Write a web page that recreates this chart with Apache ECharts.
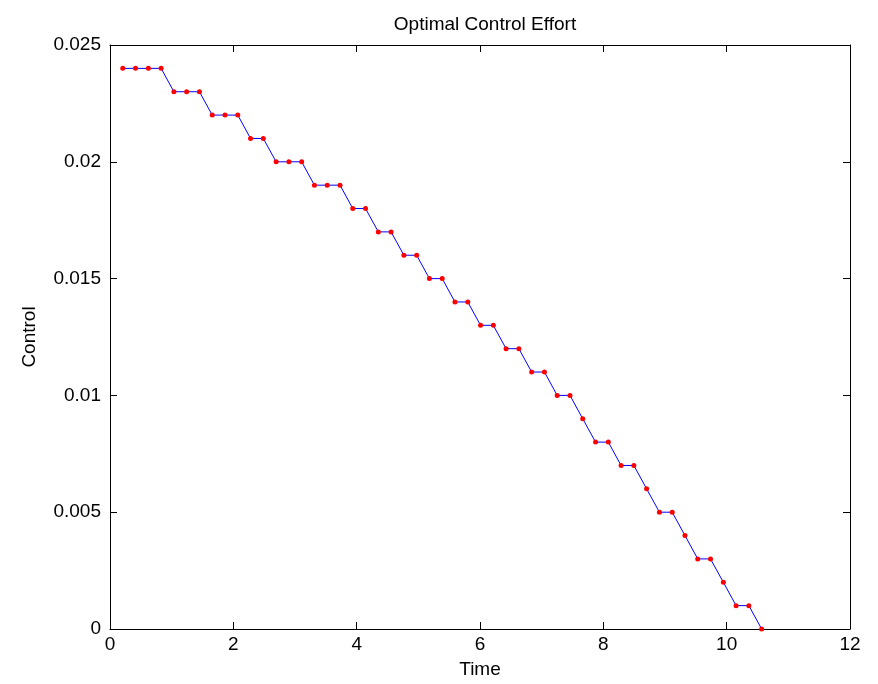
<!DOCTYPE html>
<html>
<head>
<meta charset="utf-8">
<title>Optimal Control Effort</title>
<script src="https://cdn.jsdelivr.net/npm/echarts@6/dist/echarts.min.js"></script>
<style>
  html, body { margin: 0; padding: 0; background: #fff; }
  #chart { width: 878px; height: 684px; }
</style>
</head>
<body>
<div id="chart"></div>
<script>
// time samples
var time = [
  0.207, 0.414, 0.622, 0.829, 1.036, 1.243, 1.450, 1.658, 1.865, 2.072,
  2.279, 2.486, 2.694, 2.901, 3.108, 3.315, 3.522, 3.730, 3.937, 4.144,
  4.351, 4.558, 4.766, 4.973, 5.180, 5.387, 5.594, 5.802, 6.009, 6.216,
  6.423, 6.630, 6.838, 7.045, 7.252, 7.459, 7.666, 7.874, 8.081, 8.288,
  8.495, 8.702, 8.910, 9.117, 9.324, 9.531, 9.738, 9.946, 10.153, 10.360,
  10.567
];
// control effort at each sample
var control = [
  0.024, 0.024, 0.024, 0.024, 0.023, 0.023, 0.023, 0.022, 0.022, 0.022,
  0.021, 0.021, 0.020, 0.020, 0.020, 0.019, 0.019, 0.019, 0.018, 0.018,
  0.017, 0.017, 0.016, 0.016, 0.015, 0.015, 0.014, 0.014, 0.013, 0.013,
  0.012, 0.012, 0.011, 0.011, 0.010, 0.010, 0.009, 0.008, 0.008, 0.007,
  0.007, 0.006, 0.005, 0.005, 0.004, 0.003, 0.003, 0.002, 0.001, 0.001,
  0.000
];
var xTicks = [0, 2, 4, 6, 8, 10, 12];
var yTicks = [0, 0.005, 0.01, 0.015, 0.02, 0.025];

var font = '"Liberation Sans", Arial, Helvetica, sans-serif';
var chart = echarts.init(document.getElementById('chart'));

var points = time.map(function (t, i) { return [t, control[i]]; });

function xAxisCfg(pos, showLabel) {
  return {
    type: 'value',
    position: pos,
    min: xTicks[0],
    max: xTicks[xTicks.length - 1],
    interval: xTicks[1] - xTicks[0],
    axisLine: { show: true, onZero: false, lineStyle: { color: '#000', width: 1 } },
    axisTick: { show: true, inside: true, length: 7, lineStyle: { color: '#000' } },
    axisLabel: { show: showLabel, color: '#000', fontSize: 19, fontFamily: font, margin: 6 },
    splitLine: { show: false }
  };
}
function yAxisCfg(pos, showLabel) {
  return {
    type: 'value',
    position: pos,
    min: yTicks[0],
    max: yTicks[yTicks.length - 1],
    interval: yTicks[1] - yTicks[0],
    axisLine: { show: true, onZero: false, lineStyle: { color: '#000', width: 1 } },
    axisTick: { show: true, inside: true, length: 7, lineStyle: { color: '#000' } },
    axisLabel: {
      show: showLabel, color: '#000', fontSize: 19, fontFamily: font, margin: 9,
      formatter: function (v) { return String(+v.toFixed(3)); }
    },
    splitLine: { show: false }
  };
}

var bottomX = xAxisCfg('bottom', true);
bottomX.name = 'Time';
bottomX.nameLocation = 'middle';
bottomX.nameGap = 31;
bottomX.nameTextStyle = { color: '#000', fontSize: 19, fontFamily: font };

var leftY = yAxisCfg('left', true);
leftY.name = 'Control';
leftY.nameLocation = 'middle';
leftY.nameGap = 71;
leftY.nameTextStyle = { color: '#000', fontSize: 19, fontFamily: font };

var option = {
  backgroundColor: '#fff',
  animation: false,
  title: {
    text: 'Optimal Control Effort',
    left: 480,
    textAlign: 'center',
    top: 10,
    textStyle: { color: '#000', fontSize: 19, fontWeight: 'normal', fontFamily: font }
  },
  grid: { left: 110, right: 28, top: 45, bottom: 55, containLabel: false },
  xAxis: [bottomX, xAxisCfg('top', false)],
  yAxis: [leftY, yAxisCfg('right', false)],
  series: [
    {
      type: 'line',
      data: points,
      xAxisIndex: 0,
      yAxisIndex: 0,
      symbol: 'circle',
      symbolSize: 5,
      showSymbol: true,
      lineStyle: { color: '#0000ff', width: 1 },
      itemStyle: { color: '#ff0000', borderWidth: 0 }
    }
  ]
};

chart.setOption(option);
window.onresize = chart.resize;
</script>
</body>
</html>
